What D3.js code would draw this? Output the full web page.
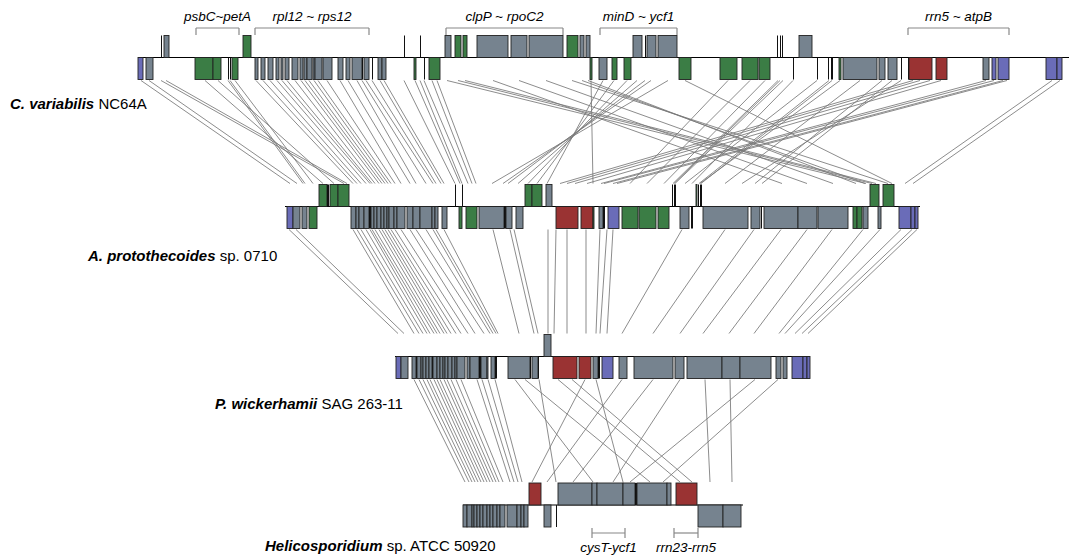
<!DOCTYPE html>
<html>
<head>
<meta charset="utf-8">
<script src="https://cdn.jsdelivr.net/npm/d3@7"></script>
<style>
  body { margin: 0; background: #fff; }
  text { font-family: "Liberation Sans", Arial, sans-serif; }
</style>
</head>
<body>
<div id="chart"></div>
<script>
// genome names (italic bold part, plain part)
var genomeNames = [
  ["C. variabilis", " NC64A"],
  ["A. protothecoides", " sp. 0710"],
  ["P. wickerhamii", " SAG 263-11"],
  ["Helicosporidium", " sp. ATCC 50920"]
];
// genome lengths in map units
var genomeLengths = [931, 635, 415, 280];

// genes: [start, end, strand (1 = upper, -1 = lower), class]
// class: g = other genes, n = photosynthesis, r = rRNA, p = atp, k = tRNA
var genesCV = [
  [23,24,1,"k"],[26,31,1,"g"],[105,113,1,"n"],[266,267,1,"k"],[282,283,1,"k"],
  [307,313,1,"g"],[317,323,1,"n"],[325,329,1,"n"],[339,370,1,"g"],[373,389,1,"g"],
  [391,425,1,"g"],[429,440,1,"n"],[442,446,1,"g"],[448,452,1,"g"],[495,504,1,"g"],
  [507,508,1,"k"],[509,518,1,"g"],[520,539,1,"g"],[639,640,1,"k"],[642,643,1,"k"],
  [644,645,1,"k"],[661,674,1,"g"],
  [0,5,-1,"p"],[8,15,-1,"g"],[57,75,-1,"n"],[75,83,-1,"n"],[90,91,-1,"k"],[92,93,-1,"k"],
  [94,100,-1,"n"],
  [117,120,-1,"g"],[123,127,-1,"g"],[130,135,-1,"g"],[138,141,-1,"g"],[143,145,-1,"g"],
  [147,151,-1,"g"],[154,160,-1,"g"],[162,165,-1,"g"],[166,169,-1,"g"],[169,174,-1,"g"],
  [175,177,-1,"g"],[177,184,-1,"g"],[185,194,-1,"g"],[200,205,-1,"g"],[208,212,-1,"g"],
  [214,224,-1,"g"],[224,225,-1,"k"],[226,231,-1,"g"],[234,235,-1,"k"],[240,244,-1,"g"],
  [244,248,-1,"g"],
  [276,278,-1,"n"],[286,287,-1,"k"],[291,302,-1,"n"],[452,454,-1,"n"],[461,469,-1,"g"],
  [474,479,-1,"n"],[486,493,-1,"n"],[541,553,-1,"n"],[582,599,-1,"n"],[604,620,-1,"n"],
  [621,632,-1,"n"],[655,656,-1,"k"],[679,680,-1,"k"],[690,691,-1,"k"],[693,695,-1,"k"],
  [701,703,-1,"n"],[705,739,-1,"g"],[741,747,-1,"g"],[750,759,-1,"g"],[763,764,-1,"k"],
  [770,771,-1,"k"],[771,794,-1,"r"],[798,809,-1,"r"],[845,851,-1,"g"],[854,858,-1,"p"],
  [860,871,-1,"p"],[908,919,-1,"p"],[919,924,-1,"p"]
];

var genesAP = [
  [34,42,1,"n"],[42,44,1,"k"],[45,53,1,"n"],[53,64,1,"n"],[170,171,1,"k"],[177,178,1,"k"],
  [240,247,1,"n"],[247,257,1,"n"],[261,267,1,"g"],[387,388,1,"k"],[389,391,1,"k"],
  [411,412,1,"n"],[413,414,1,"k"],[415,417,1,"k"],[585,594,1,"n"],[598,609,1,"n"],
  [2,8,-1,"p"],[8,15,-1,"g"],[17,22,-1,"g"],[24,32,-1,"n"],
  [66,71,-1,"g"],[71,74,-1,"g"],[74,79,-1,"g"],[79,84,-1,"g"],[84,86,-1,"k"],[86,89,-1,"g"],
  [89,92,-1,"g"],[92,96,-1,"g"],[96,99,-1,"g"],[99,102,-1,"g"],[102,104,-1,"g"],
  [104,109,-1,"g"],[109,112,-1,"g"],[112,120,-1,"g"],[122,128,-1,"g"],[128,135,-1,"g"],
  [135,147,-1,"g"],[147,150,-1,"g"],[150,153,-1,"g"],[157,162,-1,"g"],
  [174,177,-1,"n"],[181,192,-1,"n"],[194,219,-1,"g"],[219,221,-1,"k"],[221,227,-1,"g"],
  [231,238,-1,"g"],[271,293,-1,"r"],[296,308,-1,"r"],[308,309,-1,"n"],[314,318,-1,"g"],
  [318,320,-1,"k"],[323,334,-1,"p"],[337,353,-1,"n"],[354,371,-1,"n"],[373,384,-1,"n"],
  [395,404,-1,"g"],[406,408,-1,"k"],[418,463,-1,"g"],[466,475,-1,"g"],[476,477,-1,"k"],
  [479,513,-1,"g"],[513,532,-1,"g"],[533,563,-1,"g"],[568,572,-1,"n"],[572,577,-1,"n"],
  [578,583,-1,"g"],[593,596,-1,"g"],[614,626,-1,"p"],[626,630,-1,"p"],[630,633,-1,"p"]
];

var genesPW = [
  [149,156,1,"g"],
  [1,6,-1,"p"],[6,13,-1,"g"],[17,21,-1,"g"],[21,22,-1,"k"],[22,26,-1,"g"],[26,28,-1,"g"],
  [28,31,-1,"g"],[31,34,-1,"g"],[34,37,-1,"g"],[37,38,-1,"k"],[38,42,-1,"g"],[42,45,-1,"g"],
  [45,48,-1,"g"],[48,50,-1,"g"],[50,53,-1,"g"],[53,57,-1,"g"],[57,60,-1,"g"],[60,62,-1,"g"],
  [62,70,-1,"g"],[72,75,-1,"g"],[75,84,-1,"g"],[84,86,-1,"k"],[86,92,-1,"g"],[92,93,-1,"g"],
  [96,100,-1,"g"],[100,102,-1,"k"],[113,135,-1,"g"],[135,136,-1,"k"],[137,143,-1,"g"],
  [143,144,-1,"k"],[158,182,-1,"r"],[184,196,-1,"r"],[198,203,-1,"g"],[203,205,-1,"k"],
  [207,218,-1,"p"],[224,232,-1,"g"],[239,278,-1,"g"],[280,289,-1,"g"],[292,327,-1,"g"],
  [327,345,-1,"g"],[345,376,-1,"g"],[381,386,-1,"g"],[388,392,-1,"g"],[397,408,-1,"p"],
  [408,412,-1,"p"],[412,415,-1,"p"]
];

var genesHS = [
  [66,78,1,"r"],[95,129,1,"g"],[129,134,1,"g"],[134,160,1,"g"],[160,172,1,"g"],
  [172,174,1,"k"],[174,204,1,"g"],[204,208,1,"g"],[213,234,1,"r"],
  [0,4,-1,"g"],[4,9,-1,"g"],[9,11,-1,"g"],[11,14,-1,"g"],[14,17,-1,"g"],[17,20,-1,"g"],
  [20,24,-1,"g"],[24,27,-1,"g"],[27,30,-1,"g"],[30,34,-1,"g"],[34,37,-1,"g"],[37,42,-1,"g"],
  [44,54,-1,"g"],[54,58,-1,"g"],[58,61,-1,"g"],[61,65,-1,"g"],[81,88,-1,"g"],[93,94,-1,"k"],
  [235,260,-1,"g"],[260,278,-1,"g"]
];

// homologous gene links: [position in upper genome, position in lower genome]
var linksCVAP = [
  [3,5],[11,12],[23,59],[28,62],[67,38],[80,49],[90,18],[92,20],[97,28],
  [118,68],[125,72],[132,76],[139,81],[144,85],[149,87],[157,90],[163,94],[167,97],
  [171,100],[176,103],[180,106],[189,110],[202,116],[210,125],[219,131],[224,141],
  [228,148],[234,151],[242,156],[246,159],
  [266,170],[277,175],[282,177],[286,183],[294,187],[299,191],
  [309,581],[320,587],[327,591],[355,497],[381,522],[408,548],[434,603],[444,580],
  [450,571],[453,308],
  [465,262],[476,252],[489,243],[499,233],[507,223],[513,218],[530,207],[547,607],
  [590,345],[612,362],[627,379],[640,388],[642,389],[645,390],[655,407],[679,400],
  [691,414],[694,416],[702,415],[722,440],[744,470],[754,477],[763,457],
  [775,275],[782,282],[792,290],[803,302],[848,316],[856,319],[865,328],[869,332],
  [914,620],[922,628]
];
var linksAPPW = [
  [4,3],[11,9],
  [68,19],[72,24],[76,28],[81,32],[85,35],[87,39],[90,42],[94,45],[97,49],[100,52],
  [103,56],[106,61],[110,66],[116,73],[125,80],[131,89],[141,95],[148,98],[151,101],
  [159,103],
  [208,124],[225,139],[229,143],[263,153],[271,159],[282,172],[301,191],[315,201],
  [322,205],[328,212],[397,227],[440,258],[469,285],[496,308],[522,334],[547,359],
  [578,384],[595,390],[616,400],[627,407],[632,413]
];
var linksPWHS = [
  [19,2],[24,6],[28,9],[32,12],[35,15],[39,18],[42,21],[45,24],[49,27],[52,30],[56,33],
  [61,36],[66,40],[82,47],[87,51],[93,55],[100,59],
  [120,130],[130,187],[144,93],[163,217],[177,229],[190,69],[201,160],[227,84],
  [258,110],[285,150],[310,247],[335,269],[360,167],[383,200]
];

// gene cluster brackets: [genome index, start, end, label]
var clusterLabels = [
  [0, 58, 101, "psbC~petA"],
  [0, 117, 231, "rpl12 ~ rps12"],
  [0, 308, 425, "clpP ~ rpoC2"],
  [0, 462, 539, "minD ~ ycf1"],
  [0, 770, 871, "rrn5 ~ atpB"],
  [3, 129, 162, "cysT-ycf1"],
  [3, 211, 235, "rrn23-rrn5"]
];

var genes = [genesCV, genesAP, genesPW, genesHS];
var links = [linksCVAP, linksAPPW, linksPWHS];

// layout
var width = 1072, height = 556;
var trackX = [138, 285, 395, 463];
var trackY = [57.5, 206.5, 356.5, 505];
var nameX = [10, 88, 215, 265];
var nameY = [109, 261, 409, 551];
var boxH = 22;

var color = d3.scaleOrdinal()
  .domain(["g", "n", "r", "p", "k"])
  .range(["#76838f", "#3b7d45", "#9a3333", "#6a6cb8", "#111111"]);

var xs = genomeLengths.map(function(len, i) {
  return d3.scaleLinear().domain([0, len]).range([trackX[i], trackX[i] + len]);
});

var svg = d3.select("#chart").append("svg")
  .attr("width", width)
  .attr("height", height);

// links
links.forEach(function(set, i) {
  svg.append("g")
    .selectAll("line")
    .data(set)
    .enter()
    .append("line")
    .attr("x1", function(d) { return xs[i](d[0]); })
    .attr("y1", trackY[i] + boxH + 1)
    .attr("x2", function(d) { return xs[i + 1](d[1]); })
    .attr("y2", trackY[i + 1] - boxH - 1)
    .style("stroke", "#777")
    .style("stroke-width", 0.85);
});

// genome tracks
genes.forEach(function(list, i) {
  var g = svg.append("g");
  g.append("line")
    .attr("x1", xs[i](0))
    .attr("x2", xs[i](genomeLengths[i]))
    .attr("y1", trackY[i])
    .attr("y2", trackY[i])
    .style("stroke", "#000")
    .style("stroke-width", 1.2);

  g.selectAll("rect")
    .data(list)
    .enter()
    .append("rect")
    .attr("x", function(d) { return xs[i](d[0]); })
    .attr("y", function(d) { return d[2] > 0 ? trackY[i] - boxH : trackY[i]; })
    .attr("width", function(d) { return Math.max(1, xs[i](d[1]) - xs[i](d[0])); })
    .attr("height", boxH)
    .style("fill", function(d) { return color(d[3]); })
    .style("stroke", function(d) { return d[3] == "k" ? "none" : "#222"; })
    .style("stroke-width", 0.9);

  var label = svg.append("text")
    .attr("x", nameX[i])
    .attr("y", nameY[i])
    .style("font-size", "15px");
  label.append("tspan")
    .style("font-weight", "bold")
    .style("font-style", "italic")
    .text(genomeNames[i][0]);
  label.append("tspan")
    .text(genomeNames[i][1]);
});

// cluster brackets
clusterLabels.forEach(function(c) {
  var i = c[0], x = xs[i];
  var above = i == 0;
  var by = above ? 28 : 533;
  var b = svg.append("g").style("stroke", "#888").style("stroke-width", 1.2).style("fill", "none");
  b.append("line").attr("x1", x(c[1])).attr("x2", x(c[2])).attr("y1", by).attr("y2", by);
  [c[1], c[2]].forEach(function(p) {
    b.append("line")
      .attr("x1", x(p)).attr("x2", x(p))
      .attr("y1", above ? by : by - 5)
      .attr("y2", above ? by + 7 : by + 5);
  });
  svg.append("text")
    .attr("x", (x(c[1]) + x(c[2])) / 2)
    .attr("y", above ? 21 : 551.5)
    .attr("text-anchor", "middle")
    .style("font-style", "italic")
    .style("font-size", "13.5px")
    .text(c[3]);
});
</script>
</body>
</html>
